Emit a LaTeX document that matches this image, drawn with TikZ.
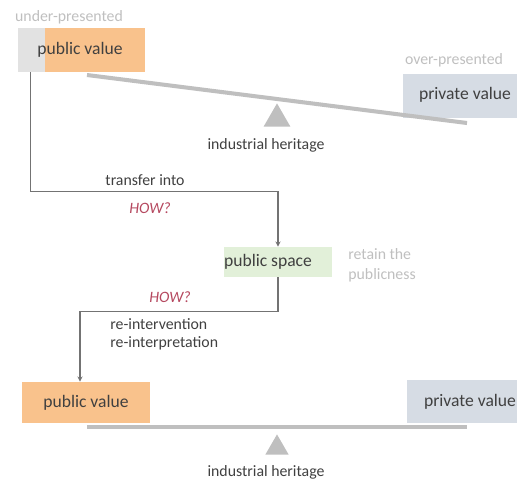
\documentclass[tikz,border=0pt]{standalone}
\usepackage{fontspec}
\setmainfont{Carlito}
\usetikzlibrary{arrows.meta,positioning,calc,shapes.geometric}
\definecolor{orng}{HTML}{F9C28C}
\definecolor{pale}{HTML}{E2E2E2}
\definecolor{steel}{HTML}{D6DCE4}
\definecolor{mint}{HTML}{E2F0D9}
\definecolor{lever}{HTML}{BFBFBF}
\definecolor{wine}{HTML}{B5485F}
\definecolor{ink}{HTML}{404040}
\tikzset{
  valbox/.style ={inner sep=0pt,minimum height=8.6mm},
  pub/.style    ={valbox,fill=orng},
  priv/.style   ={valbox,fill=steel},
  spacebox/.style={fill=mint,inner sep=0pt,minimum width=21.6mm,minimum height=6mm},
  lbl/.style    ={text=ink,font=\fontsize{10}{12}\selectfont,inner sep=0pt},
  note/.style   ={text=ink,font=\fontsize{9}{10.3}\selectfont,inner sep=0pt,align=left},
  faint/.style  ={text=lever,font=\fontsize{9}{11.3}\selectfont,inner sep=0pt,align=left},
  how/.style    ={text=wine,font=\fontsize{9}{11}\selectfont\itshape,inner sep=0pt},
  beam/.style   ={draw=lever,line width=2.3pt},
  fulcrum/.style={regular polygon,regular polygon sides=3,fill=lever,inner sep=0pt,
                  minimum size=5.4mm},
  flow/.style   ={-{Stealth[length=3pt,width=3pt]},draw=black!55,line width=.6pt},
}
\begin{document}
\begin{tikzpicture}[x=0.02cm,y=-0.02cm]
  \useasboundingbox (0,0) rectangle (517,481);

  % --- upper balance: tilted ---
  \node[valbox,fill=pale,minimum width=25.4mm,minimum height=8.8mm] (gtop) at (81.5,50) {};
  \node[pub,minimum width=20mm,minimum height=8.8mm,anchor=east] (otop) at (gtop.east) {};
  \node[lbl] (pvtop) at (80,50) {public value};
  \node[faint] (under) at (69,17) {under-presented};
  \node[priv,minimum width=22.8mm,minimum height=8.8mm] (prtop) at (460,96) {};
  \node[lbl] (pvrtop) at (465,95) {private value};
  \node[faint] (over) at (454,60) {over-presented};
  \coordinate (btl) at (87,75);
  \coordinate (btr) at (467,123);
  \draw[beam] (btl) -- (btr);
  \node[fulcrum,minimum size=6.2mm,anchor=south] (ftop) at (277,127) {};
  \node[note] (ihtop) at (266,145) {industrial heritage};

  % --- middle: public space ---
  \node[spacebox] (pspace) at (278,262) {};
  \node[lbl] (pstext) at (268,262) {public space};
  \node[faint,anchor=west] (retain) at (348,265) {retain the\\publicness};

  % --- lower balance: level ---
  \node[pub,minimum width=25.6mm,minimum height=8.2mm] (obot) at (86,402.5) {};
  \node[lbl] (pvbot) at (obot) {public value};
  \node[priv,minimum width=22mm] (prbot) at (462,401.5) {};
  \node[lbl] (pvrbot) at (470,402) {private value};
  \coordinate (bbl) at (87,427);
  \coordinate (bbr) at (467,427);
  \draw[beam] (bbl) -- (bbr);
  \node[fulcrum,anchor=south] (fbot) at (277,455) {};
  \node[note] (ihbot) at (266,472) {industrial heritage};

  % arrows
  \draw[flow] (gtop.south west) ++(13,0) |- ($(pspace.north)+(0,-55)$) -- (pspace.north);
  \draw[flow] (pspace.south) -- ++(0,34) -| ([xshift=-0.12cm]obot.north);

  % labels on the arrows
  \node[note] (transfer) at (145,180) {transfer into};
  \node[how] (how1) at (150,208) {HOW?};
  \node[how] (how2) at (170,297) {HOW?};
  \node[note,anchor=west] (reint) at (110,334) {re-intervention\\re-interpretation};
\end{tikzpicture}
\end{document}
